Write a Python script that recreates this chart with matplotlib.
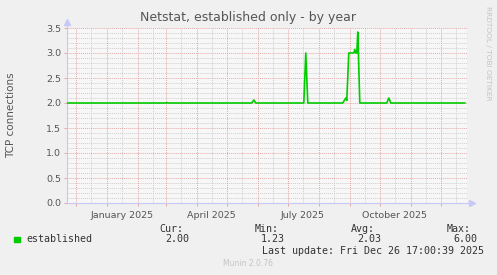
import datetime as dt
import matplotlib
matplotlib.use('Agg')
import matplotlib.pyplot as plt

# ---- data ----
sample_dates = [
    '2024-11-22', '2025-03-01', '2025-03-02', '2025-03-03',
    '2025-05-26', '2025-05-28', '2025-05-30',
    '2025-07-17', '2025-07-19', '2025-07-21',
    '2025-08-25', '2025-08-28', '2025-08-29', '2025-08-31',
    '2025-09-05', '2025-09-06', '2025-09-07', '2025-09-08',
    '2025-09-09', '2025-09-11',
    '2025-10-08', '2025-10-10', '2025-10-12', '2025-12-25',
]
established = [
    2.0, 2.0, 2.01, 2.0,
    2.0, 2.06, 2.0,
    2.0, 3.0, 2.0,
    2.0, 2.1, 2.05, 3.0,
    3.0, 3.07, 3.0, 3.0,
    3.42, 2.0,
    2.0, 2.1, 2.0, 2.0,
]
month_labels = ['January 2025', 'April 2025', 'July 2025', 'October 2025']
label_dates = ['2025-01-16', '2025-04-16', '2025-07-16', '2025-10-16']
y_ticks = [0.0, 0.5, 1.0, 1.5, 2.0, 2.5, 3.0, 3.5]
legend_name = 'established'
stats_head = ['Cur:', 'Min:', 'Avg:', 'Max:']
stats_vals = ['2.00', '1.23', '2.03', '6.00']
last_update = 'Last update: Fri Dec 26 17:00:39 2025'

W, H = 497, 275
BG = '#F0F0F0'
LINE = '#00CC00'
MGRID = '#E4A8A8'
GRID = '#CFCFCF'
AXIS = '#C8C8F8'


def px(x, y):
    return x / W, 1 - y / H


end = dt.datetime(2025, 12, 26, 17, 0)
start = end - dt.timedelta(days=400)
xs = [dt.datetime.fromisoformat(d) for d in sample_dates]

fig = plt.figure(figsize=(W / 100, H / 100), dpi=100, facecolor=BG)
left, top = px(66.5, 28)
right, bottom = px(466.5, 203)
ax = fig.add_axes([left, bottom, right - left, top - bottom])
ax.set_facecolor('#F7F7F7')
ax.set_xlim(start, end)
ax.set_ylim(0, 3.5)

# grid
months = []
m = dt.datetime(start.year, start.month, 1)
while m <= end:
    if m >= start:
        months.append(m)
    m = dt.datetime(m.year + (m.month == 12), m.month % 12 + 1, 1)
mids = [mm.replace(day=16) for mm in months]
mids = [d for d in mids if start <= d <= end]
for d in mids:
    ax.axvline(d, color=GRID, lw=0.7, ls=(0, (1, 1)), zorder=1)
for v in [i / 10 for i in range(1, 35)]:
    if abs(v * 2 - round(v * 2)) > 1e-6:
        ax.axhline(v, color=GRID, lw=0.7, ls=(0, (1, 1)), zorder=1)
for d in months:
    ax.axvline(d, color=MGRID, lw=0.7, ls=(0, (1, 1)), zorder=2)
for v in y_ticks[1:]:
    ax.axhline(v, color=MGRID, lw=0.7, ls=(0, (1, 1)), zorder=2)

ax.plot(xs, established, color=LINE, lw=1.2, zorder=5)

# axes with arrow heads
for s in ['top', 'right']:
    ax.spines[s].set_visible(False)
for s in ['left', 'bottom']:
    ax.spines[s].set_color(AXIS)
    ax.spines[s].set_linewidth(0.8)
ax.plot([start, start], [3.5, 3.6], color=AXIS, lw=0.8, clip_on=False)
ax.plot([start], [3.62], marker='^', ms=4, color=AXIS, clip_on=False, zorder=6)
ax_end = end + dt.timedelta(days=5)
ax.plot([end, ax_end], [0, 0], color=AXIS, lw=0.8, clip_on=False)
ax.plot([ax_end], [0], marker='>', ms=4, color=AXIS, clip_on=False, zorder=6)

ax.set_xticks(months)
ax.set_xticklabels([])
ax.tick_params(axis='x', length=2, color=MGRID, width=0.7)
ax.set_yticks(y_ticks)
ax.set_yticklabels(['%.1f' % v for v in y_ticks], fontsize=6.8, color='#555555')
ax.tick_params(axis='y', length=2, color=MGRID, width=0.7, pad=2)
for d, lab in zip(label_dates, month_labels):
    ax.text(dt.datetime.fromisoformat(d), -0.25, lab, ha='center', va='center',
            fontsize=6.8, color='#555555', transform=ax.transData)

fig.text(*px(248, 18), 'Netstat, established only - by year', ha='center',
         va='center', fontsize=9, color='#555555')
fig.text(*px(11, 115), 'TCP connections', rotation=90, ha='center',
         va='center', fontsize=7.5, color='#555555')
fig.text(*px(488, 53), 'RRDTOOL / TOBI OETIKER', rotation=-90, ha='center',
         va='center', fontsize=5.3, color='#C4C4C4')

# legend
mono = 'DejaVu Sans Mono'
fig.patches.append(plt.Rectangle(px(14, 242), 6 / W, 5 / H, color=LINE,
                                 transform=fig.transFigure))
fig.text(*px(26, 239.5), legend_name, fontsize=7.2, family=mono,
         va='center', color='#333333')
for head, val, hx, vx in zip(stats_head, stats_vals,
                             [159, 255, 351, 447], [165, 261, 357, 453]):
    fig.text(*px(hx, 228.5), head, fontsize=7.2, family=mono, va='center',
             color='#333333')
    fig.text(*px(vx, 239.5), val, fontsize=7.2, family=mono, va='center',
             color='#333333')
fig.text(*px(261.5, 251.5), last_update, fontsize=7.2, family=mono,
         va='center', color='#333333')
fig.text(*px(248, 264), 'Munin 2.0.76', ha='center', va='center',
         fontsize=5.5, color='#C4C4C4')

fig.savefig('out.png', dpi=100, facecolor=BG)
